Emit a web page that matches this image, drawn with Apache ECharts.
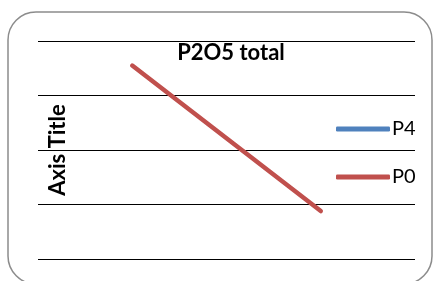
<!DOCTYPE html>
<html>
<head>
<meta charset="utf-8">
<script src="https://cdn.jsdelivr.net/npm/echarts@6/dist/echarts.min.js"></script>
<style>
  html, body { margin: 0; padding: 0; background: #fff; }
  #chart { width: 437px; height: 281px; }
</style>
</head>
<body>
<div id="chart"></div>
<script>
// categories and series values
var categories = ["1", "2"];
var p4Data = [null, null];
var p0Data = [3.55, 0.88];
var seriesNames = ["P4", "P0"];

var chart = echarts.init(document.getElementById("chart"));
var font = "Lato, 'Open Sans', sans-serif";

var option = {
  animation: false,
  title: {
    text: "P2O5 total",
    left: 226,
    textAlign: "center",
    top: 37,
    textStyle: { fontFamily: font, fontSize: 22, fontWeight: "bold", color: "#000" }
  },
  legend: {
    orient: "vertical",
    left: 331,
    top: 112,
    itemGap: 24,
    itemWidth: 54,
    itemHeight: 5,
    icon: "roundRect",
    data: seriesNames,
    textStyle: { fontFamily: font, fontSize: 20, color: "#000", lineHeight: 24, padding: [0, 0, 0, -3] }
  },
  graphic: [{
    type: "rect",
    shape: { x: 8, y: 12, width: 424, height: 272, r: 28 },
    style: { fill: "none", stroke: "#8c8c8c", lineWidth: 1.5 },
    z: -1
  }],
  grid: { left: 38, right: 22, top: 41, bottom: 22 },
  xAxis: {
    type: "category",
    data: categories,
    boundaryGap: true,
    axisLine: { show: false },
    axisTick: { show: false },
    axisLabel: { show: false }
  },
  yAxis: {
    type: "value",
    min: 0,
    max: 4,
    interval: 1,
    name: "Axis Title",
    nameLocation: "middle",
    nameGap: -31,
    nameRotate: 90,
    nameTextStyle: { fontFamily: font, fontSize: 22, fontWeight: "bold", color: "#000" },
    axisLine: { show: false },
    axisTick: { show: false },
    axisLabel: { show: false },
    splitLine: { lineStyle: { color: "#000", width: 1 } }
  },
  series: [
    {
      name: "P4",
      type: "line",
      data: p4Data,
      symbol: "none",
      itemStyle: { color: "#4F81BD" },
      lineStyle: { color: "#4F81BD", width: 4.5, cap: "round" }
    },
    {
      name: "P0",
      type: "line",
      data: p0Data,
      symbol: "none",
      itemStyle: { color: "#C0504D" },
      lineStyle: { color: "#C0504D", width: 4.5, cap: "round" }
    }
  ]
};

chart.setOption(option);
</script>
</body>
</html>
